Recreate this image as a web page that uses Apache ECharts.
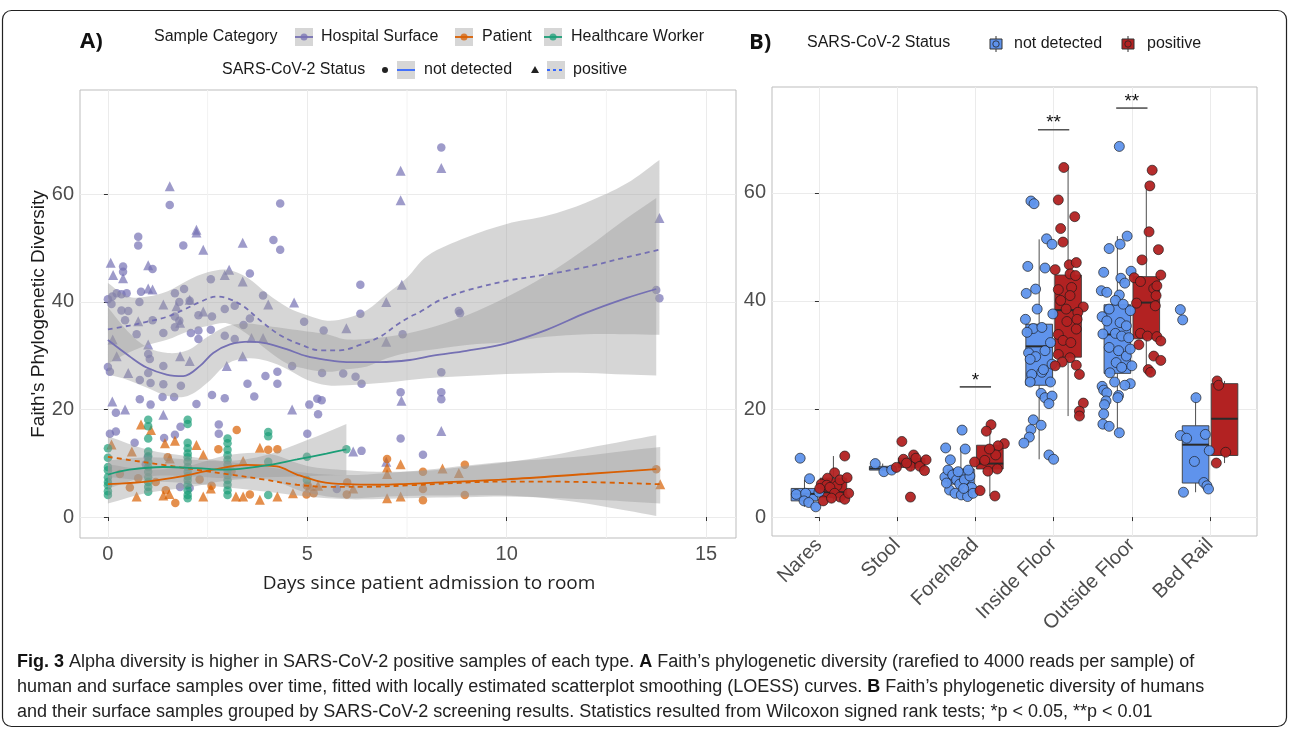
<!DOCTYPE html>
<html>
<head>
<meta charset="utf-8">
<script src="https://cdn.jsdelivr.net/npm/echarts@6.0.0/dist/echarts.min.js"></script>
<style>
  html, body { margin: 0; padding: 0; background: #fff; }
  #chart { width: 1290px; height: 730px; }
</style>
</head>
<body>
<div id="chart"></div>
<script>
// ---- panel A: points [days, faith PD] ----
const surfaceNotDetected = [
  [4.32,58.3],[1.55,58.0],[4.15,51.5],[4.32,49.7],[0.76,52.1],[0.76,50.5],[1.89,50.5],[0.38,46.6],[0.38,45.6],[1.12,46.1],
  [3.56,45.3],[2.58,44.2],[0.0,40.5],[0.11,41.0],[0.22,41.6],[0.34,41.4],[0.47,41.6],[0.83,41.9],[1.68,41.6],[1.91,42.4],
  [3.89,41.2],[0.09,39.6],[0.34,38.4],[0.51,38.3],[0.79,40.0],[1.79,40.0],[2.05,40.2],[0.43,36.6],[1.12,36.6],[1.68,37.3],
  [1.79,36.5],[2.27,37.5],[2.61,37.3],[2.93,38.7],[3.18,39.3],[0.72,34.0],[1.39,34.2],[1.68,35.3],[2.08,34.2],[2.27,34.7],
  [2.58,34.8],[3.56,36.9],[3.40,35.7],[4.92,36.3],[5.41,34.7],[6.33,43.2],[6.33,37.8],[7.39,34.0],[2.27,33.1],[2.93,33.7],
  [3.18,33.1],[0.0,27.9],[0.05,27.0],[1.01,30.3],[1.05,29.4],[1.39,28.1],[1.01,26.8],[0.80,25.5],[1.07,24.9],[1.39,24.7],
  [1.83,24.4],[1.37,22.3],[0.80,21.9],[1.66,22.3],[2.22,21.0],[2.61,22.7],[2.93,22.1],[3.50,24.8],[3.67,22.4],[3.95,26.2],
  [4.25,27.0],[4.25,24.8],[4.62,28.1],[5.05,20.9],[5.25,22.0],[5.36,21.7],[5.27,19.1],[5.37,26.8],[5.90,26.7],[6.21,26.1],
  [6.36,24.8],[7.34,23.2],[7.34,14.6],[0.20,19.4],[1.07,20.9],[0.05,15.5],[0.20,15.9],[0.67,13.8],[1.82,16.8],[1.41,14.7],
  [1.68,15.3],[2.78,17.2],[2.78,15.5],[5.00,15.5],[6.36,12.3],[0.95,9.8],[1.81,5.6],[2.05,5.4],[1.0,11.1],[5.74,5.2],
  [8.36,68.7],[8.80,38.3],[8.83,37.9],[8.36,26.9],[8.36,23.2],[8.36,21.9],[7.90,11.6],[13.75,42.2],[13.83,40.7]
];
const surfacePositive = [
  [1.55,61.5],[2.22,53.4],[2.22,52.9],[2.39,49.7],[3.38,51.0],[0.07,47.3],[0.13,45.0],[0.38,44.4],[1.01,46.8],[1.01,42.5],
  [1.12,42.3],[2.93,45.0],[3.04,46.0],[3.38,43.8],[4.67,39.9],[7.34,64.4],[7.34,58.9],[7.37,43.2],[6.98,40.0],[5.98,35.1],
  [1.39,39.5],[1.72,39.2],[2.05,40.4],[2.39,38.2],[0.76,36.4],[1.01,32.1],[0.51,26.8],[0.22,29.9],[1.81,29.9],[2.05,29.0],
  [2.98,28.1],[3.38,29.9],[3.60,33.3],[3.89,33.3],[4.02,39.5],[0.11,21.5],[0.43,20.0],[1.39,19.0],[4.62,20.0],[6.15,12.2],
  [6.98,10.3],[6.98,32.6],[1.81,36.1],[8.36,64.9],[7.36,21.6],[8.36,16.0],[13.83,55.6],[0.12,33.0]
];
const patientNotDetected = [
  [3.23,16.2],[2.77,12.6],[4.02,12.5],[4.25,12.6],[1.69,2.6],[0.76,7.2],[3.56,4.2],[4.98,4.2],[5.16,4.4],[5.99,4.2],
  [7.0,10.8],[4.99,5.8],[6.0,6.4],[7.9,8.4],[7.9,5.2],[7.9,3.1],[8.95,9.7],[8.95,4.1],[13.75,8.9],[0.3,8.0],
  [1.2,6.5],[2.3,7.0],[3.1,8.5],[0.55,5.5],[1.45,5.0],[2.6,5.8],[1.5,11.1]
];
const patientPositive = [
  [0.83,17.2],[1.08,16.2],[0.09,13.5],[1.43,13.7],[1.68,14.2],[2.22,13.4],[2.39,11.6],[1.55,10.9],[3.39,10.4],[0.72,3.8],
  [1.39,4.0],[1.54,4.3],[2.39,3.8],[2.58,5.3],[3.21,3.8],[3.39,3.8],[3.81,12.9],[3.81,3.2],[4.25,3.8],[4.64,4.4],
  [5.07,5.8],[5.27,5.8],[6.15,5.3],[7.0,9.2],[7.34,9.8],[7.0,8.0],[7.0,3.5],[7.34,3.8],[8.39,9.0],[8.8,8.2],
  [13.85,6.1],[0.6,12.2]
];
const workerNotDetected = [
  [0,12.8],[0,11.0],[0,9.3],[0,8.7],[0,7.4],[0,6.5],[0,5.9],[0,4.8],[0,4.1],
  [1.01,18.1],[1.01,16.9],[1.01,14.6],[1.01,12.2],[1.01,11.3],[1.01,10.3],[1.01,9.3],[1.01,8.4],[1.01,7.4],[1.01,6.5],[1.01,5.6],[1.01,4.7],
  [2.0,18.1],[2.0,17.3],[2.0,13.8],[2.0,12.8],[2.0,11.8],[2.0,11.1],[2.0,10.3],[2.0,9.3],[2.0,8.4],[2.0,7.6],[2.0,6.9],[2.0,6.0],[2.0,5.0],[2.0,4.1],[2.0,3.5],
  [3.0,14.6],[3.0,13.7],[3.0,12.5],[3.0,11.5],[3.0,10.6],[3.0,9.7],[3.0,8.7],[3.0,7.8],[3.0,6.9],[3.0,6.0],[3.0,5.0],[3.0,4.1],
  [4.02,15.8],[4.02,15.0],[4.02,10.3],[4.02,4.1],[4.99,11.2],[4.99,6.9],[5.98,12.6]
];

// LOESS fits
const surfaceFitNotDetected = [[0,32.9],[0.54,29.9],[0.97,27.8],[1.47,26.5],[1.89,26.2],[2.31,28.1],[2.64,30.5],[3.06,32.1],[3.56,32.6],[3.98,32.3],[4.48,31.2],[4.98,29.9],[5.48,29.2],[5.98,28.8],[6.82,28.8],[7.57,29.2],[8.15,30.0],[8.99,30.9],[9.99,32.3],[11.0,34.8],[12.0,38.0],[13.0,40.7],[13.75,42.4]];
const surfaceFitPositive = [[0,34.9],[0.54,35.6],[0.97,36.3],[1.47,37.2],[1.89,38.5],[2.31,40.0],[2.73,41.0],[3.02,40.6],[3.40,39.2],[3.81,36.6],[4.32,33.8],[4.82,32.1],[5.32,31.0],[5.82,31.0],[6.32,32.0],[6.82,33.5],[7.24,35.7],[7.57,37.2],[7.82,38.1],[8.32,40.3],[8.99,42.1],[9.99,43.9],[11.0,45.1],[12.0,46.5],[13.0,48.3],[13.83,49.7]];
const patientFitNotDetected = [[0,6.1],[0.97,6.6],[1.81,7.5],[2.64,8.8],[3.48,9.7],[4.24,9.4],[4.74,7.9],[5.32,6.6],[5.98,6.1],[6.82,6.0],[7.32,6.1],[9.99,7.0],[12.0,8.0],[13.75,8.9]];
const patientFitPositive = [[0,11.2],[0.54,10.6],[1.38,9.7],[2.22,8.8],[3.06,7.9],[3.89,7.0],[4.74,6.0],[5.57,5.6],[6.4,5.6],[7.57,5.9],[10,6.6],[12,6.5],[13.85,6.1]];
const workerFitNotDetected = [[0,7.9],[0.54,8.8],[1.38,9.3],[2.22,9.1],[2.98,8.8],[3.89,9.5],[4.74,10.7],[5.48,11.8],[5.98,12.6]];

// confidence ribbons [days, lower, upper]
const surfaceBandNotDetected = [[0,26.5,39],[0.5,25.5,34.5],[1,24,31.5],[1.5,22.5,30.5],[2,22.5,31],[2.5,25,33.5],[3,28.5,35.5],[3.5,29.5,36],[4,29,35.5],[4.5,27.5,35],[5,25.5,34.5],[5.5,24.5,34],[6,24.5,33],[7,25,33.5],[8,25.8,35],[9,26.2,37.5],[10,26.6,40.9],[11,26.8,45],[12,26.8,50],[13,26.5,55.5],[13.75,26.3,59.3]];
const surfaceBandPositive = [[0,28.5,43.5],[0.5,30.5,41],[1,32,41],[1.5,33,42],[2,34.5,44],[2.5,35.5,45.5],[3,36,46],[3.5,34,44.5],[4,31,41.5],[4.5,28.5,39],[5,27.5,37.5],[5.5,27,36.5],[6,27.5,37],[6.5,28,38.5],[7,29.5,41.5],[7.5,30.5,44.5],[8,31,48.5],[9,32,52],[10,32.5,54.5],[11,33.5,56],[12,34,58.5],[13,34,62],[13.83,33.9,66.4]];
const patientBandNotDetected = [[0,2.5,9.8],[1,4.5,8.8],[2,5.5,9.5],[3,6.8,11.5],[4,7,11.8],[5,4.5,9.5],[6,3.5,8.7],[7,3.8,8.4],[8,4,8.6],[9,4,9.4],[10,4,10.2],[11,3.5,11.3],[12,2.5,12.8],[13,1.2,14.2],[13.75,0.2,15.2]];
const patientBandPositive = [[0,7.5,15],[1,6.7,12.5],[2,6.3,11.3],[3,5.5,10.3],[4,4.7,9.3],[5,3.8,8.2],[6,3.3,7.8],[7,3.4,8.2],[8,3.6,8.8],[9,3.7,9.6],[10,3.8,10.3],[11,3.6,10.8],[12,3.3,11.4],[13,2.9,12.3],[13.85,2.5,13]];
const workerBandNotDetected = [[0,5.3,10.5],[1,7.5,11.1],[2,7.6,10.7],[3,7.2,10.4],[4,7.4,11.6],[5,7.6,14.3],[5.98,7.8,17.3]];

const xTicksA = [0, 5, 10, 15];
const xMinorA = [2.5, 7.5, 12.5];
const yTicks = [0, 20, 40, 60];

// ---- panel B ----
const sampleTypes = ['Nares', 'Stool', 'Forehead', 'Inside Floor', 'Outside Floor', 'Bed Rail'];
const typeTicks = [0, 1, 2, 3, 4, 5];
// [type index, min, q1, median, q3, max]
const boxNotDetected = [[0,1.9,3.0,4.3,5.3,6.9],[1,8.5,8.7,9.0,9.4,9.9],[2,3.8,6.1,7.2,8.9,12.8],[3,10.7,24.4,31.6,35.7,51.4],[4,15.4,26.6,33.8,39.3,52.0],[5,4.6,6.3,13.4,16.9,22.1]];
const boxPositive = [[0,2.8,3.6,4.6,7.2,11.3],[1,8.6,9.2,10.1,10.9,11.9],[2,3.9,8.9,9.9,13.3,17.1],[3,18.7,29.6,38.3,44.8,64.7],[4,27.3,33.0,39.7,44.5,61.3],[5,10.0,11.4,18.2,24.7,25.2]];
// jittered samples [type index, jitter, faith PD]
const ptsNotDetected = [
  [0,-0.24,10.9],[0,-0.12,7.1],[0,-0.29,4.2],[0,-0.17,4.4],[0,-0.19,3.0],[0,-0.13,2.7],[0,-0.04,1.9],[0,0.0,4.6],
  [1,-0.28,9.9],[1,-0.17,8.4],[1,-0.07,8.7],
  [2,-0.38,12.8],[2,-0.17,16.1],[2,-0.13,12.6],[2,-0.32,10.6],[2,-0.39,7.4],[2,-0.35,8.7],[2,-0.29,7.8],[2,-0.24,6.9],[2,-0.20,6.1],[2,-0.14,6.9],
  [2,-0.07,7.6],[2,-0.05,5.5],[2,-0.33,5.0],[2,-0.26,4.4],[2,-0.18,4.1],[2,-0.10,3.8],[2,-0.03,4.4],[2,-0.22,8.4],[2,-0.09,8.7],[2,-0.37,6.3],[2,-0.15,5.3],
  [3,-0.29,58.5],[3,-0.25,58.0],[3,-0.09,51.5],[3,-0.02,50.5],[3,-0.11,46.1],[3,-0.33,46.4],[3,-0.35,41.4],[3,-0.23,42.2],[3,-0.21,38.5],[3,-0.01,37.6],
  [3,-0.36,36.6],[3,-0.26,34.9],[3,-0.34,34.2],[3,-0.15,35.1],[3,-0.32,30.4],[3,-0.23,29.7],[3,-0.11,30.8],[3,-0.04,32.3],[3,-0.28,26.4],[3,-0.15,26.8],
  [3,-0.13,27.3],[3,-0.02,28.3],[3,-0.30,25.0],[3,-0.04,25.0],[3,-0.16,22.9],[3,-0.11,22.1],[3,-0.02,22.4],[3,-0.06,21.0],[3,-0.26,18.0],[3,-0.29,16.2],
  [3,-0.16,17.0],[3,-0.31,14.8],[3,-0.38,13.7],[3,-0.06,11.5],[3,0.0,10.7],[3,-0.30,29.2],
  [4,-0.16,68.6],[4,-0.06,52.0],[4,-0.15,50.5],[4,-0.29,49.7],[4,-0.36,45.3],[4,-0.01,45.5],[4,-0.14,44.2],[4,-0.09,43.3],[4,-0.39,41.9],[4,-0.32,41.6],
  [4,-0.16,41.1],[4,-0.21,40.1],[4,-0.29,38.5],[4,-0.11,39.4],[4,-0.02,38.2],[4,-0.38,37.1],[4,-0.32,36.3],[4,-0.15,36.0],[4,-0.07,35.4],[4,-0.37,33.9],
  [4,-0.21,34.0],[4,-0.13,33.5],[4,-0.04,33.2],[4,-0.29,31.4],[4,-0.17,30.8],[4,-0.07,29.8],[4,-0.02,31.1],[4,-0.20,28.6],[4,-0.13,27.7],[4,0.0,28.0],
  [4,-0.28,26.7],[4,-0.22,25.0],[4,-0.02,24.7],[4,-0.09,24.4],[4,-0.38,24.2],[4,-0.36,23.5],[4,-0.32,23.0],[4,-0.17,22.5],[4,-0.18,22.1],[4,-0.33,21.5],
  [4,-0.35,20.8],[4,-0.36,19.1],[4,-0.37,17.2],[4,-0.29,16.8],[4,-0.16,15.6],
  [5,-0.38,38.4],[5,-0.35,36.5],[5,-0.18,22.1],[5,-0.38,15.1],[5,-0.30,14.6],[5,-0.06,15.3],[5,-0.20,10.3],[5,-0.01,12.3],[5,-0.08,6.4],[5,-0.04,5.8],
  [5,-0.02,5.2],[5,-0.34,4.6]
];
const ptsPositive = [
  [0,0.33,11.3],[0,0.20,8.2],[0,0.11,7.2],[0,0.03,6.1],[0,0.10,5.9],[0,0.23,5.8],[0,0.27,6.9],[0,0.36,7.3],[0,0.055,3.0],[0,0.14,5.5],
  [0,0.20,4.4],[0,0.27,3.7],[0,0.33,3.3],[0,0.38,4.4],[0,0.01,5.3],[0,0.16,3.5],
  [1,0.06,14.0],[1,0.17,3.7],[1,-0.01,9.2],[1,0.08,10.7],[1,0.17,9.4],[1,0.21,11.5],[1,0.24,10.9],[1,0.29,9.4],[1,0.37,10.6],[1,0.35,8.6],[1,0.12,10.0],
  [2,0.20,17.1],[2,0.14,15.9],[2,-0.01,10.2],[2,0.06,4.9],[2,0.25,3.9],[2,0.37,13.6],[2,0.29,13.2],[2,0.16,8.5],[2,0.26,11.5],[2,0.18,12.6],[2,0.28,8.9],[2,0.12,10.5],
  [3,0.13,64.7],[3,0.06,58.7],[3,0.09,53.4],[3,0.12,50.9],[3,0.27,55.6],[3,0.20,46.7],[3,0.29,47.1],[3,0.02,45.8],[3,0.21,45.0],[3,0.28,44.7],
  [3,0.06,42.1],[3,0.23,42.5],[3,0.09,40.1],[3,0.21,41.0],[3,0.38,38.9],[3,0.16,38.5],[3,0.31,37.9],[3,0.17,36.2],[3,0.30,36.6],[3,0.29,34.8],
  [3,0.06,33.8],[3,0.12,32.7],[3,0.22,32.3],[3,0.06,30.1],[3,0.21,29.5],[3,0.11,28.7],[3,0.02,28.0],[3,0.29,28.1],[3,0.33,26.4],[3,0.38,21.1],
  [3,0.33,19.6],[3,0.33,18.7],
  [4,0.26,64.2],[4,0.23,61.3],[4,0.22,52.8],[4,0.34,49.5],[4,0.13,47.6],[4,0.03,44.3],[4,0.11,43.6],[4,0.37,44.8],[4,0.28,42.3],[4,0.31,41.0],
  [4,0.06,39.6],[4,0.30,39.1],[4,0.11,34.0],[4,0.20,33.5],[4,0.32,33.4],[4,0.37,32.6],[4,0.09,31.9],[4,0.28,29.8],[4,0.37,29.0],[4,0.21,27.3],
  [4,0.24,26.8],[4,0.32,42.8],
  [5,0.09,25.2],[5,0.11,24.4],[5,0.20,12.0],[5,0.08,10.0]
];
// significance brackets
const sigTypes = [2, 3, 4];
const sigHeights = [24.1, 71.7, 75.7];
const sigLabels = ['*', '**', '**'];

const PURPLE = '#7570B3', ORANGE = '#D95F02', GREEN = '#1B9E77';
const BLUE = '#5F93EC', RED = '#B22222', KEYBLUE = '#3366FF';
const RIBBON = 'rgba(153,153,153,0.4)';
const DODGE = 0.185, BOX_HALF = 0.17, SIG_HALF = 0.2;
const TICK_FONT = 'Liberation Sans, Arial, sans-serif';
const Y_MIN_A = -3.9, Y_MAX_A = 79.4;

const chart = echarts.init(document.getElementById('chart'));

// panel A marks live on their own layer so the grid always stays underneath
function scatterA(name, data, color, symbol) {
  return {
    type: 'scatter', name, xAxisIndex: 0, yAxisIndex: 0, zlevel: 1, z: 2, silent: true,
    data, symbol, symbolSize: symbol === 'triangle' ? 10 : 8.5,
    itemStyle: { color, opacity: 0.7 }
  };
}
function fitLine(data, color, dashed) {
  return {
    type: 'line', xAxisIndex: 0, yAxisIndex: 0, zlevel: 1, z: 5, silent: true,
    data, smooth: 0.35, symbol: 'none',
    lineStyle: { color, width: 1.8, type: dashed ? [5, 4] : 'solid' }
  };
}
// confidence ribbon as one smoothed polygon; corner points doubled so the ends stay square
function ribbon(rows) {
  return {
    type: 'custom', xAxisIndex: 0, yAxisIndex: 0, zlevel: 1, z: 4, silent: true,
    data: rows, encode: { x: 0, y: [1, 2] },
    renderItem: function (params, api) {
      if (params.dataIndex !== 0) return null;
      const top = rows.map(r => api.coord([r[0], r[2]]));
      const bottom = rows.map(r => api.coord([r[0], r[1]])).reverse();
      const pts = [top[0]].concat(top, [top[top.length - 1], bottom[0]], bottom, [bottom[bottom.length - 1]]);
      return { type: 'polygon', shape: { points: pts, smooth: 0.35 }, style: { fill: RIBBON } };
    }
  };
}
function boxSeries(rows, offset, fill) {
  return {
    type: 'custom', xAxisIndex: 1, yAxisIndex: 1, z: 3, silent: true,
    data: rows,
    encode: { x: 0, y: [1, 2, 3, 4, 5] },
    renderItem: function (params, api) {
      const c = api.value(0) + offset;
      const pMin = api.coord([c, api.value(1)]);
      const pQ1 = api.coord([c, api.value(2)]);
      const pMed = api.coord([c, api.value(3)]);
      const pQ3 = api.coord([c, api.value(4)]);
      const pMax = api.coord([c, api.value(5)]);
      const xl = api.coord([c - BOX_HALF, 0])[0];
      const xr = api.coord([c + BOX_HALF, 0])[0];
      const ls = { stroke: '#3a3a3a', lineWidth: 0.9 };
      return {
        type: 'group',
        children: [
          { type: 'line', shape: { x1: pMax[0], y1: pMax[1], x2: pQ3[0], y2: pQ3[1] }, style: ls },
          { type: 'line', shape: { x1: pQ1[0], y1: pQ1[1], x2: pMin[0], y2: pMin[1] }, style: ls },
          { type: 'rect', shape: { x: xl, y: pQ3[1], width: xr - xl, height: pQ1[1] - pQ3[1] },
            style: { fill, stroke: '#3a3a3a', lineWidth: 0.9 } },
          { type: 'line', shape: { x1: xl, y1: pMed[1], x2: xr, y2: pMed[1] },
            style: { stroke: '#2a2a2a', lineWidth: 2 } }
        ]
      };
    }
  };
}
function scatterB(pts, color) {
  return {
    type: 'scatter', xAxisIndex: 1, yAxisIndex: 1, z: 6, silent: true,
    data: pts.map(p => [p[0] + p[1], p[2]]),
    symbolSize: 10,
    itemStyle: { color, borderColor: '#1a1a1a', borderWidth: 0.7, opacity: 0.95 }
  };
}

const series = [
  // minor vertical grid lines of panel A
  {
    type: 'custom', xAxisIndex: 0, yAxisIndex: 0, zlevel: 0, z: 0, silent: true,
    data: xMinorA.map(v => [v]), encode: { x: 0 },
    renderItem: function (params, api) {
      const a = api.coord([api.value(0), Y_MIN_A]);
      const b = api.coord([api.value(0), Y_MAX_A]);
      return { type: 'line', shape: { x1: a[0], y1: a[1], x2: b[0], y2: b[1] }, style: { stroke: '#F2F2F2', lineWidth: 1 } };
    }
  },
  scatterA('Hospital Surface', surfaceNotDetected, PURPLE, 'circle'),
  scatterA('Hospital Surface', surfacePositive, PURPLE, 'triangle'),
  scatterA('Patient', patientNotDetected, ORANGE, 'circle'),
  scatterA('Patient', patientPositive, ORANGE, 'triangle'),
  scatterA('Healthcare Worker', workerNotDetected, GREEN, 'circle'),
  ribbon(surfaceBandNotDetected),
  ribbon(surfaceBandPositive),
  ribbon(patientBandNotDetected),
  ribbon(patientBandPositive),
  ribbon(workerBandNotDetected),
  fitLine(surfaceFitNotDetected, PURPLE, false),
  fitLine(surfaceFitPositive, PURPLE, true),
  fitLine(patientFitNotDetected, ORANGE, false),
  fitLine(patientFitPositive, ORANGE, true),
  fitLine(workerFitNotDetected, GREEN, false),
  boxSeries(boxNotDetected, -DODGE, BLUE),
  boxSeries(boxPositive, DODGE, RED),
  scatterB(ptsNotDetected, BLUE),
  scatterB(ptsPositive, RED),
  {
    type: 'custom', xAxisIndex: 1, yAxisIndex: 1, z: 7, silent: true,
    data: sigTypes.map((t, i) => [t, sigHeights[i]]),
    encode: { x: 0, y: 1 },
    renderItem: function (params, api) {
      const t = api.value(0), h = api.value(1);
      const a = api.coord([t - SIG_HALF, h]);
      const b = api.coord([t + SIG_HALF, h]);
      return {
        type: 'group',
        children: [
          { type: 'line', shape: { x1: a[0], y1: a[1], x2: b[0], y2: b[1] }, style: { stroke: '#555', lineWidth: 1.6 } },
          { type: 'text', x: (a[0] + b[0]) / 2, y: a[1] + 3,
            style: { text: sigLabels[params.dataIndex], fill: '#111', fontSize: 19, fontFamily: TICK_FONT,
                     align: 'center', verticalAlign: 'bottom' } }
        ]
      };
    }
  }
];

function valueAxis(gridIndex, min, max, splitNumber, ticks, extra) {
  return Object.assign({
    type: 'value', gridIndex, min, max, splitNumber,
    axisLine: { show: false },
    axisTick: { show: true, length: 4, customValues: ticks, lineStyle: { color: '#333' } },
    axisLabel: {
      customValues: ticks, color: '#4D4D4D', fontSize: 20, fontFamily: TICK_FONT, margin: 6,
      formatter: v => (ticks.indexOf(v) >= 0 ? String(v) : '')
    },
    splitLine: { show: true, lineStyle: { color: '#EBEBEB', width: 1 } }
  }, extra || {});
}

// legend keys and texts
const legendFont = { fontSize: 16, fontFamily: TICK_FONT, fill: '#1a1a1a', verticalAlign: 'middle' };
function txt(x, y, text, extra) {
  return { type: 'text', x, y, style: Object.assign({ text }, legendFont, extra || {}) };
}
function smoothKey(x, yc, color, dashed, dot) {
  const els = [
    { type: 'rect', shape: { x, y: yc - 9, width: 18, height: 18 }, style: { fill: '#D6D6D6' } },
    { type: 'line', shape: { x1: x, y1: yc, x2: x + 18, y2: yc },
      style: { stroke: color, lineWidth: 1.8, lineDash: dashed ? [3, 3] : null } }
  ];
  if (dot) els.push({ type: 'circle', shape: { cx: x + 9, cy: yc, r: 3.5 }, style: { fill: color, opacity: 0.75 } });
  return els;
}
function boxKey(cx, yc, fill) {
  return [
    { type: 'line', shape: { x1: cx, y1: yc - 8, x2: cx, y2: yc + 8 }, style: { stroke: '#333', lineWidth: 1 } },
    { type: 'rect', shape: { x: cx - 6, y: yc - 5, width: 12, height: 10 }, style: { fill, stroke: '#333', lineWidth: 1 } },
    { type: 'circle', shape: { cx, cy: yc, r: 3.2 }, style: { fill, stroke: '#222', lineWidth: 0.8 } }
  ];
}

const capFont = 'Liberation Sans Narrow, Arial Narrow, Liberation Sans, sans-serif';
const capRich = { b: { fontWeight: 'bold', fontSize: 18, fontFamily: capFont, fill: '#111' } };
function capLine(y, text) {
  return { type: 'text', x: 17, y, style: { text, fontSize: 18, fontFamily: capFont, fill: '#222', verticalAlign: 'middle', rich: capRich } };
}

const graphic = [
  { type: 'rect', shape: { x: 2.5, y: 10.5, width: 1284, height: 716, r: 9 }, style: { fill: 'none', stroke: '#222', lineWidth: 1.2 } },
  { type: 'text', x: 80, y: 42, style: { text: 'A)', fontSize: 22, fontWeight: 'bold', fontFamily: 'Open Sans, sans-serif', fill: '#111', verticalAlign: 'middle' } },
  { type: 'text', x: 749, y: 43, style: { text: 'B)', fontSize: 22, fontWeight: 'bold', fontFamily: 'Open Sans, sans-serif', fill: '#111', verticalAlign: 'middle' } },
  txt(154, 37, 'Sample Category'),
  ...smoothKey(295, 37, PURPLE, false, true),
  txt(321, 37, 'Hospital Surface'),
  ...smoothKey(455, 37, ORANGE, false, true),
  txt(482, 37, 'Patient'),
  ...smoothKey(544, 37, GREEN, false, true),
  txt(571, 37, 'Healthcare Worker'),
  txt(222, 70, 'SARS-CoV-2 Status'),
  { type: 'circle', shape: { cx: 385, cy: 70, r: 3 }, style: { fill: '#222' } },
  ...smoothKey(397, 70, KEYBLUE, false, false),
  txt(424, 70, 'not detected'),
  { type: 'polygon', shape: { points: [[535, 66], [539, 73], [531, 73]] }, style: { fill: '#222' } },
  ...smoothKey(547, 70, KEYBLUE, true, false),
  txt(573, 70, 'positive'),
  txt(807, 43, 'SARS-CoV-2 Status'),
  ...boxKey(996, 44, BLUE),
  txt(1014, 44, 'not detected'),
  ...boxKey(1128, 44, RED),
  txt(1147, 44, 'positive'),
  capLine(662, '{b|Fig. 3} Alpha diversity is higher in SARS-CoV-2 positive samples of each type. {b|A} Faith\u2019s phylogenetic diversity (rarefied to 4000 reads per sample) of'),
  capLine(687, 'human and surface samples over time, fitted with locally estimated scatterplot smoothing (LOESS) curves. {b|B} Faith\u2019s phylogenetic diversity of humans'),
  capLine(712, 'and their surface samples grouped by SARS-CoV-2 screening results. Statistics resulted from Wilcoxon signed rank tests; *p < 0.05, **p < 0.01')
];

chart.setOption({
  animation: false,
  backgroundColor: '#fff',
  grid: [
    { left: 80, top: 90, width: 656, height: 448, show: true, borderColor: '#BDBDBD', borderWidth: 1, backgroundColor: 'transparent' },
    { left: 772, top: 87, width: 485, height: 449, show: true, borderColor: '#BDBDBD', borderWidth: 1, backgroundColor: 'transparent' }
  ],
  xAxis: [
    valueAxis(0, -0.7, 15.75, 3, xTicksA, {
      name: 'Days since patient admission to room', nameLocation: 'middle', nameGap: 36,
      nameTextStyle: { fontFamily: 'Open Sans, sans-serif', fontSize: 19, color: '#222', padding: [0, 0, 0, 42] }
    }),
    valueAxis(1, -0.6, 5.6, 6, typeTicks, {
      axisLabel: {
        customValues: typeTicks, color: '#4D4D4D', fontSize: 20, fontFamily: TICK_FONT, margin: 6, rotate: 45,
        formatter: v => (Number.isInteger(v) && v >= 0 && v < sampleTypes.length ? sampleTypes[v] : '')
      }
    })
  ],
  yAxis: [
    valueAxis(0, Y_MIN_A, Y_MAX_A, 8, yTicks, {
      name: 'Faith\'s Phylogenetic Diversity', nameLocation: 'middle', nameGap: 32, nameMoveOverlap: false,
      nameTextStyle: { fontFamily: TICK_FONT, fontSize: 19, color: '#1a1a1a' }
    }),
    valueAxis(1, -3.5, 79.6, 8, yTicks)
  ],
  graphic,
  series
});
</script>
</body>
</html>
